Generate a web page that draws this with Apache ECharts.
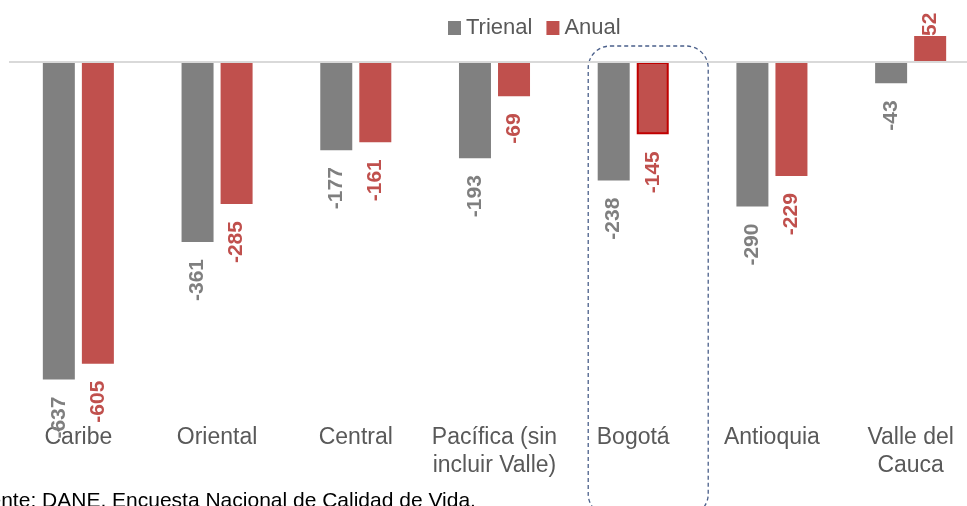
<!DOCTYPE html>
<html>
<head>
<meta charset="utf-8">
<script src="https://cdn.jsdelivr.net/npm/echarts@6/dist/echarts.min.js"></script>
<style>
  html, body { margin: 0; padding: 0; background: #fff; overflow: hidden; }
  #chart { width: 985px; height: 506px; }
</style>
</head>
<body>
<div id="chart"></div>
<script>
const categories = ['Caribe', 'Oriental', 'Central', 'Pacífica (sin\nincluir Valle)', 'Bogotá', 'Antioquia', 'Valle del\nCauca'];
const trienal = [-637, -361, -177, -193, -238, -290, -43];
const anual = [-605, -285, -161, -69, -145, -229, 52];
const highlight = 'Bogotá';

const font = "'Liberation Sans', Arial, sans-serif";
const GRAY = '#7f7f7f';
const RED = '#c0504d';

// labels run bottom-to-top, just past the bar end
const labelBase = {
  show: true,
  position: 'bottom',
  rotate: 90,
  align: 'right',
  verticalAlign: 'middle',
  distance: 17,
  fontFamily: font,
  fontSize: 21,
  fontWeight: 'bold'
};

const posLabel = { position: 'top', align: 'left', distance: 0 };

const chart = echarts.init(document.getElementById('chart'));

const option = {
  animation: false,
  legend: {
    left: 443,
    top: 12,
    itemWidth: 13,
    itemHeight: 14,
    itemGap: 14,
    icon: 'rect',
    textStyle: { fontFamily: font, fontSize: 22, color: '#595959' },
    data: ['Trienal', 'Anual']
  },
  grid: { left: 9, top: 32, width: 971, height: 379 },
  xAxis: {
    type: 'category',
    data: categories,
    axisLine: { show: false },
    axisTick: { show: false },
    axisLabel: {
      interval: 0,
      margin: 13,
      fontFamily: font,
      fontSize: 23,
      lineHeight: 28,
      color: '#595959'
    }
  },
  yAxis: {
    type: 'value',
    min: -700,
    max: 60,
    show: false,
    splitLine: { show: false }
  },
  series: [
    {
      name: 'Trienal',
      type: 'bar',
      barWidth: 32,
      barGap: '22%',
      itemStyle: { color: '#808080' },
      label: Object.assign({}, labelBase, { color: GRAY }),
      data: trienal.map(v => (v >= 0 ? { value: v, label: posLabel } : v)),
      markLine: {
        silent: true,
        symbol: 'none',
        label: { show: false },
        lineStyle: { color: '#d9d9d9', width: 2, type: 'solid' },
        data: [{ yAxis: 0 }]
      }
    },
    {
      name: 'Anual',
      type: 'bar',
      barWidth: 32,
      itemStyle: { color: RED },
      label: Object.assign({}, labelBase, { color: RED }),
      data: anual.map((v, i) => {
        const item = { value: v };
        if (v >= 0) item.label = posLabel;
        if (categories[i] === highlight) item.itemStyle = { borderColor: '#c00000', borderWidth: 2 };
        return item;
      })
    }
  ]
};

chart.setOption(option);

const cx = chart.convertToPixel({ xAxisIndex: 0 }, highlight);
chart.setOption({
  graphic: [
    {
      type: 'rect',
      silent: true,
      shape: { x: cx - 45, y: 46, width: 120, height: 470, r: 22 },
      style: { fill: 'none', stroke: '#4a5f8a', lineWidth: 1.3, lineDash: [4, 3] }
    },
    {
      type: 'text',
      left: -35,
      top: 491,
      style: {
        text: 'Fuente: DANE, Encuesta Nacional de Calidad de Vida.',
        fontFamily: font,
        fontSize: 21,
        fill: '#000'
      }
    }
  ]
});

window.addEventListener('resize', () => chart.resize());
</script>
</body>
</html>
